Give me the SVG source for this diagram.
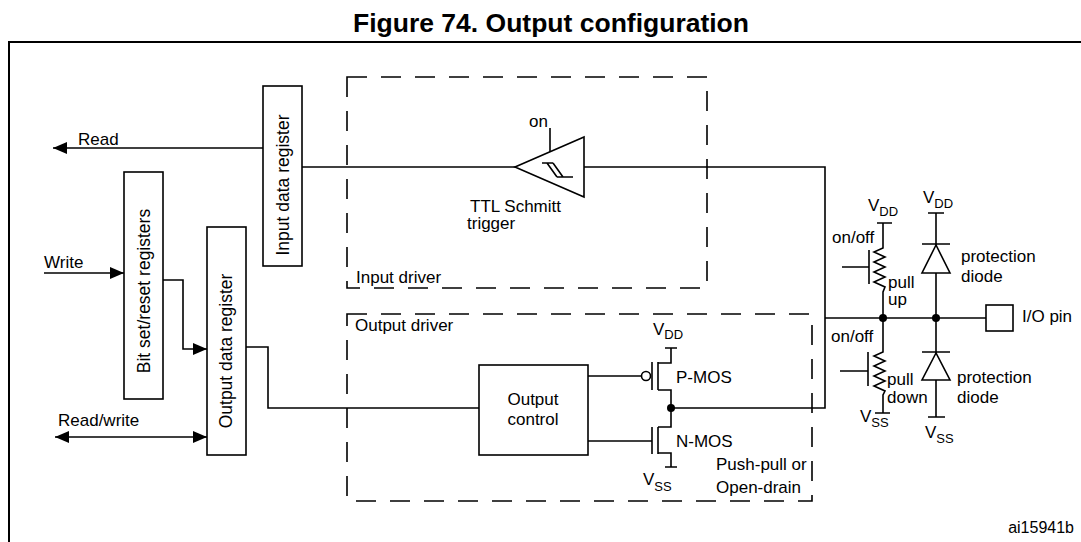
<svg xmlns="http://www.w3.org/2000/svg" width="1081" height="542" viewBox="0 0 1081 542">
<style>
text{font-family:"Liberation Sans",Arial,sans-serif;font-size:17px;fill:#000}
.t17{font-size:17.5px}
.sm{font-size:16px}
.sub{font-size:13px}
.ln{fill:none;stroke:#000;stroke-width:1.6}
.box{fill:#fff;stroke:#000;stroke-width:1.6}
.dash{fill:none;stroke:#000;stroke-width:1.6;stroke-dasharray:20 14}
.dot{fill:#000}
</style>
<defs>
<marker id="ah" viewBox="0 0 14 12" refX="14" refY="6" markerWidth="14" markerHeight="12" markerUnits="userSpaceOnUse" orient="auto-start-reverse">
<path d="M0,0 L14,6 L0,12 Z" fill="#000"/>
</marker>
</defs>
<rect width="1081" height="542" fill="#fff"/>
<text x="551" y="32" text-anchor="middle" style="font-size:26.5px;font-weight:bold">Figure 74. Output configuration</text>
<path d="M9,542 V42 H1081" fill="none" stroke="#000" stroke-width="2"/>

<g id="connectors">
<path class="ln" d="M263,148 H53" marker-end="url(#ah)"/>
<path class="ln" d="M44,273 H124" marker-end="url(#ah)"/>
<path class="ln" d="M55,437 H207" marker-start="url(#ah)" marker-end="url(#ah)"/>
<path class="ln" d="M163,280 H183 V349 H207" marker-end="url(#ah)"/>
<path class="ln" d="M246,347 H268 V408 H479"/>
<path class="ln" d="M302,167 H515"/>
<path class="ln" d="M584,167 H825 V408 H671"/>
<path class="ln" d="M825,318 H986"/>
<path class="ln" d="M588,376 H641"/>
<path class="ln" d="M588,441 H652"/>
</g>

<g id="input-driver">
<rect class="dash" x="347" y="77" width="360" height="211"/>
<text x="356" y="283">Input driver</text>
</g>
<g id="output-driver">
<rect class="dash" x="347" y="314" width="465" height="187"/>
<text x="355" y="331">Output driver</text>
<text x="716" y="470">Push-pull or</text>
<text x="716" y="493">Open-drain</text>
</g>

<g id="input-data-register">
<rect class="box" x="263" y="86" width="39" height="180"/>
<text class="t17" transform="translate(289,185) rotate(-90)" text-anchor="middle">Input data register</text>
</g>
<g id="bit-set-reset">
<rect class="box" x="124" y="172" width="39" height="227"/>
<text class="t17" transform="translate(150,291) rotate(-90)" text-anchor="middle">Bit set/reset registers</text>
</g>
<g id="output-data-register">
<rect class="box" x="207" y="227" width="39" height="228"/>
<text class="t17" transform="translate(232,351) rotate(-90)" text-anchor="middle">Output data register</text>
</g>

<g id="labels">
<text x="78" y="145">Read</text>
<text x="44" y="268">Write</text>
<text x="58" y="426">Read/write</text>
<text class="sm" x="1074" y="533" text-anchor="end">ai15941b</text>
</g>

<g id="schmitt-trigger">
<path class="box" d="M515,167 L584,137 L584,197 Z"/>
<path class="ln" d="M550,128 V152"/>
<path class="ln" d="M542,163 H553 M547,163 L557,177 M553,163 L563,177 M557,177 H573"/>
<text x="529" y="127">on</text>
<text x="470" y="212">TTL Schmitt</text>
<text x="467" y="229">trigger</text>
</g>

<g id="output-control">
<rect class="box" x="479" y="365" width="109" height="90"/>
<text x="533" y="405" text-anchor="middle">Output</text>
<text x="533" y="425" text-anchor="middle">control</text>
</g>

<g id="pmos">
<circle class="ln" cx="646" cy="376" r="4.5"/>
<path class="ln" d="M652,362 V390 M658,362 V390 M658,363 H671 V348 M665,348 H677 M658,390 H671 V408"/>
<text x="676" y="383">P-MOS</text>
<text x="653" y="335">V<tspan class="sub" dy="4">DD</tspan></text>
</g>
<g id="nmos">
<path class="ln" d="M652,427 V454 M658,427 V454 M671,408 V427 H658 M658,453 H671 V467 M665,467 H677"/>
<text x="676" y="447">N-MOS</text>
<text x="643" y="485">V<tspan class="sub" dy="6">SS</tspan></text>
<circle class="dot" cx="671" cy="408" r="4"/>
</g>

<g id="pull-up">
<path class="ln" d="M877,223 H892 M883,223 V248 L874,252 L885,257 L874,262 L885,267 L874,272 L885,277 L874,282 L885,287 L883,292 V318"/>
<path class="ln" d="M869,250 V284 M842,267 H869"/>
<text x="832" y="243">on/off</text>
<text x="888" y="288">pull</text>
<text x="888" y="305">up</text>
<text x="868" y="211">V<tspan class="sub" dy="5">DD</tspan></text>
</g>
<g id="pull-down">
<path class="ln" d="M883,318 V352 L874,356 L885,361 L874,366 L885,371 L874,376 L885,381 L874,386 L885,391 L883,395 V413 M875,413 H890"/>
<path class="ln" d="M868,352 V386 M840,371 H868"/>
<text x="831" y="342">on/off</text>
<text x="887" y="385">pull</text>
<text x="887" y="403">down</text>
<text x="860" y="422">V<tspan class="sub" dy="5">SS</tspan></text>
<circle class="dot" cx="883" cy="318" r="4"/>
</g>

<g id="diode-up">
<path class="ln" d="M928,213 H944 M936,213 V318 M922,244 H950"/>
<path class="box" d="M936,245 L922,273 L950,273 Z"/>
<text x="961" y="262">protection</text>
<text x="961" y="282">diode</text>
<text x="923" y="203">V<tspan class="sub" dy="5">DD</tspan></text>
<circle class="dot" cx="936" cy="318" r="4"/>
</g>
<g id="diode-down">
<path class="ln" d="M936,318 V417 M928,417 H945 M922,352 H950"/>
<path class="box" d="M936,353 L922,380 L950,380 Z"/>
<text x="957" y="383">protection</text>
<text x="957" y="403">diode</text>
<text x="925" y="438">V<tspan class="sub" dy="5">SS</tspan></text>
</g>

<g id="io-pin">
<rect class="box" x="986" y="305" width="27" height="26"/>
<text x="1022" y="322">I/O pin</text>
</g>
</svg>
